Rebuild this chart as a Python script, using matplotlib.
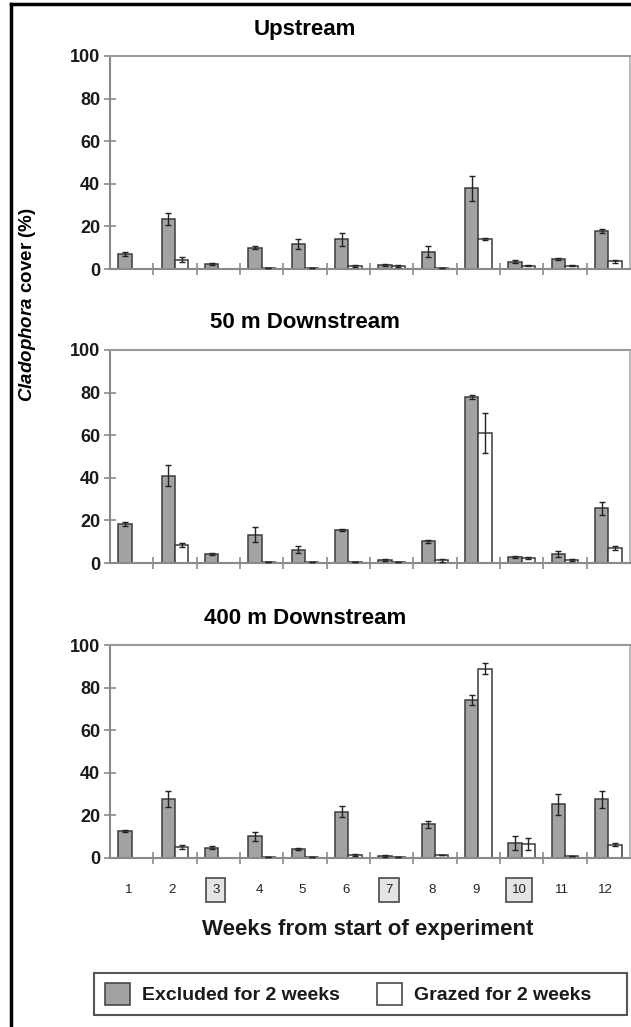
import numpy as np
import matplotlib
matplotlib.use("Agg")
import matplotlib.pyplot as plt
from matplotlib.patches import Patch, Rectangle
from matplotlib.lines import Line2D

plt.rcParams['font.family'] = ['Liberation Sans', 'DejaVu Sans']
plt.rcParams['mathtext.fontset'] = 'custom'
plt.rcParams['mathtext.it'] = 'Liberation Sans:italic:bold'
plt.rcParams['mathtext.rm'] = 'Liberation Sans:bold'

nan = np.nan
weeks = ['1', '2', '3', '4', '5', '6', '7', '8', '9', '10', '11', '12']
boxed_weeks = ['3', '7', '10']
titles = ['Upstream', '50 m Downstream', '400 m Downstream']

up_excl = [7, 23.5, 2.5, 10, 11.7, 14, 2, 8, 37.8, 3.4, 4.5, 18]
up_excl_err = [1, 3, 0.5, 0.8, 2.3, 3, 0.5, 2.6, 6, 0.7, 0.5, 1]
up_graz = [nan, 4.4, nan, 0.3, 0.3, 1.6, 1.4, 0.3, 14, 1.6, 1.5, 3.6]
up_graz_err = [nan, 1, nan, 0, 0, 0.5, 0.3, 0, 0.5, 0.4, 0.3, 0.8]

dn50_excl = [18.4, 41, 4.4, 13.3, 6.3, 15.6, 1.4, 10.2, 78, 2.8, 4.3, 25.6]
dn50_excl_err = [0.8, 5, 0.5, 3.5, 1.5, 0.5, 0.4, 0.7, 1, 0.5, 1.5, 3]
dn50_graz = [nan, 8.3, nan, 0.3, 0.5, 0.5, 0.3, 1.2, 61, 2.3, 1.4, 7]
dn50_graz_err = [nan, 1, nan, 0, 0, 0, 0, 0.5, 9.5, 0.4, 0.4, 1]

dn400_excl = [12.5, 27.7, 4.7, 10.1, 4.2, 21.8, 1, 15.9, 74, 7, 25.2, 27.6]
dn400_excl_err = [0.5, 3.7, 0.7, 2, 0.3, 2.4, 0.3, 1.7, 2.3, 3.3, 5, 4]
dn400_graz = [nan, 5.1, nan, 0.5, 0.5, 1.4, 0.6, 1.2, 88.8, 6.5, 0.8, 6.2]
dn400_graz_err = [nan, 1, nan, 0, 0, 0.3, 0, 0, 2.6, 2.8, 0, 0.8]

panels = [
    (up_excl, up_excl_err, up_graz, up_graz_err),
    (dn50_excl, dn50_excl_err, dn50_graz, dn50_graz_err),
    (dn400_excl, dn400_excl_err, dn400_graz, dn400_graz_err),
]

W, H = 631, 1027
fig = plt.figure(figsize=(W / 100, H / 100), dpi=100)

GRAY = '#a3a3a3'
EDGE = '#3c3c3c'
SPINE = '#8a8a8a'

ax_left, ax_right = 110, 630
tops = [56, 350, 645]
bottoms = [269, 563, 858]
title_y = [30, 323, 618]

x = np.arange(1, 13)
bw = 0.31
for i, (ex, exe, gr, gre) in enumerate(panels):
    ax = fig.add_axes([ax_left / W, 1 - bottoms[i] / H,
                       (ax_right - ax_left) / W, (bottoms[i] - tops[i]) / H])
    ax.bar(x - bw, ex, width=bw, align='edge', color=GRAY, edgecolor=EDGE, linewidth=1.1, zorder=2)
    ax.bar(x, gr, width=bw, align='edge', color='white', edgecolor=EDGE, linewidth=1.1, zorder=2)
    ax.errorbar(x - bw / 2, ex, yerr=exe, fmt='none', ecolor='#222222', elinewidth=1.0,
                capsize=2.5, capthick=1.0, zorder=3)
    ax.errorbar(x + bw / 2, gr, yerr=gre, fmt='none', ecolor='#222222', elinewidth=1.0,
                capsize=2.5, capthick=1.0, zorder=3)
    ax.set_xlim(0.5, 12.5)
    ax.set_ylim(0, 100)
    ax.set_yticks([0, 20, 40, 60, 80, 100])
    ax.tick_params(axis='y', direction='inout', length=8, width=1.2, color=SPINE,
                   labelsize=13, pad=3)
    for lab in ax.get_yticklabels():
        lab.set_fontweight('bold')
        lab.set_color('#1a1a1a')
    ax.set_xticks(np.arange(1.5, 12.5, 1.0), minor=True)
    ax.tick_params(axis='x', which='minor', direction='inout', length=9, width=1.2, color=SPINE)
    if i == 2:
        ax.set_xticks(x - 0.06, weeks)
        ax.tick_params(axis='x', which='major', length=0, labelsize=9.5, pad=19, labelcolor='#222222')
        for lab in ax.get_xticklabels():
            if lab.get_text() in boxed_weeks:
                lab.set_bbox(dict(boxstyle='square,pad=0.45', fc='#e4e4e4', ec='#555555', lw=1.3))
    else:
        ax.set_xticks([])
    for s in ax.spines.values():
        s.set_color(SPINE)
        s.set_linewidth(1.5)
    ax.spines['top'].set_color('#9a9a9a')
    ax.spines['right'].set_color('#b0b0b0')
    ax.spines['right'].set_linewidth(1.2)
    fig.text(305 / W, 1 - title_y[i] / H, titles[i], ha='center', va='center',
             fontsize=16, fontweight='bold', color='black')

fig.text(368 / W, 1 - 930 / H, 'Weeks from start of experiment', ha='center', va='center',
         fontsize=16, fontweight='bold', color='#1a1a1a')

fig.text(28 / W, 1 - 305 / H, r'$\it{Cladophora}$ cover (%)', rotation=90,
         ha='center', va='center', fontsize=13.5, fontweight='bold', color='black')

handles = [Patch(facecolor=GRAY, edgecolor=EDGE, linewidth=1.1, label='Excluded for 2 weeks'),
           Patch(facecolor='white', edgecolor=EDGE, linewidth=1.1, label='Grazed for 2 weeks')]
leg = fig.legend(handles=handles, loc='center left', ncol=2,
                 bbox_to_anchor=(105 / W, 1 - 994 / H),
                 fontsize=14, handlelength=1.3, handleheight=1.35, handletextpad=0.6,
                 columnspacing=1.9, borderpad=0, fancybox=False, frameon=False,
                 borderaxespad=0)
for t in leg.get_texts():
    t.set_fontweight('bold')
    t.set_color('#1a1a1a')
fig.add_artist(Rectangle((94 / W, 1 - 1015 / H), 533 / W, 42 / H, transform=fig.transFigure,
                         fill=False, edgecolor='#555555', linewidth=1.5))

# outer frame lines (top and left)
fig.add_artist(Line2D([11 / W, 1], [1 - 4 / H, 1 - 4 / H], transform=fig.transFigure,
                      color='black', linewidth=2.5))
fig.add_artist(Line2D([11 / W, 11 / W], [0, 1 - 4 / H], transform=fig.transFigure,
                      color='black', linewidth=2.5))

fig.savefig('out.png', dpi=100)
